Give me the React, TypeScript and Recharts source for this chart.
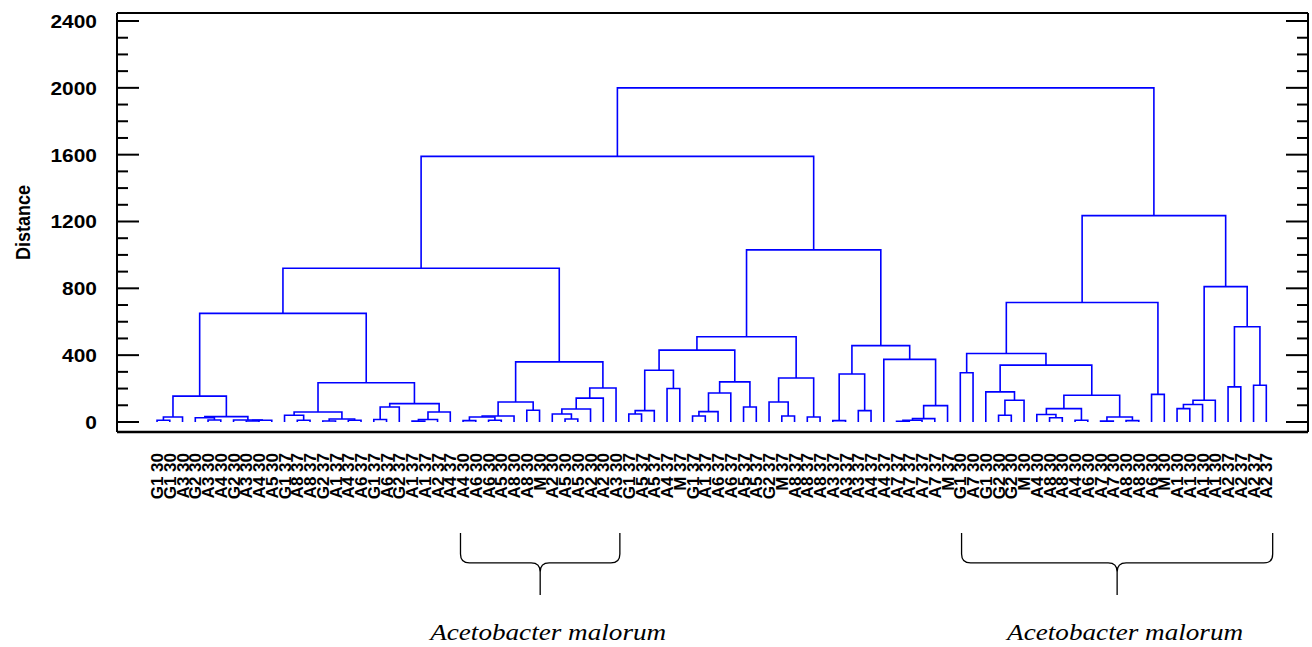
import React from "react";
import { ComposedChart, Line, XAxis, YAxis, ReferenceArea, Label } from "recharts";

const SANS = "'Liberation Sans', Arial, sans-serif";
const SERIF = "'Liberation Serif', 'Times New Roman', serif";
const TREE_COLOR = "#0000ff";

// leaf order along the x axis (left to right)
const leafLabels = [
	"G1 30", "G1 30", "A3 30", "G2 30", "A3 30", "A4 30", "G2 30", "A3 30", "A4 30", "A5 30",
	"G1 37", "A8 37", "A8 37", "G2 37", "A1 37", "A4 37", "A6 37", "G1 37", "A6 37", "G2 37",
	"A1 37", "A1 37", "A2 37", "A4 37",
	"A4 30", "A6 30", "A6 30", "A5 30", "A8 30", "A8 30", "M 30", "A2 30", "A5 30", "A5 30",
	"A2 30", "A2 30", "A3 30",
	"G1 37", "A5 37", "A5 37", "A4 37", "M 37", "G1 37", "A1 37", "A6 37", "A6 37", "A5 37",
	"A5 37", "G2 37", "M 37", "A8 37", "A8 37", "A8 37", "A3 37", "A3 37", "A3 37", "A4 37",
	"A4 37", "A7 37", "A7 37", "A7 37", "A7 37", "M 37",
	"G1 30", "A7 30", "G1 30", "G2 30", "G2 30", "M 30", "A4 30", "A8 30", "A8 30", "A4 30",
	"A6 30", "A7 30", "A7 30", "A8 30", "A8 30", "A6 30", "M 30",
	"A1 30", "A1 30", "A1 30", "A1 30",
	"A2 37", "A2 37", "A2 37", "A2 37",
];

// merges: [left, right, distance]
// positive = leaf position (1-based), negative = earlier merge (1-based)
const merges: [number, number, number][] = [
	[1, 2, 10], [-1, 3, 30], [5, 6, 12], [4, -3, 25], [8, 9, 6],
	[-5, 10, 10], [7, -6, 12], [-4, -7, 32], [-2, -8, 155], [12, 13, 10],
	[11, -10, 40], [14, 15, 6], [16, 17, 10], [-12, -13, 18], [-11, -14, 60],
	[18, 19, 15], [-16, 20, 90], [21, 22, 5], [-18, 23, 15], [-19, 24, 60],
	[-17, -20, 110], [-15, -21, 235], [-9, -22, 650], [25, 26, 8], [27, 28, 10],
	[-24, -25, 30], [-26, 29, 36], [30, 31, 70], [-27, -28, 120], [33, 34, 18],
	[32, -30, 48], [-31, 35, 78], [-32, 36, 143], [-33, 37, 203], [-29, -34, 360],
	[-23, -35, 920], [38, 39, 48], [-37, 40, 68], [41, 42, 200], [-38, -39, 310],
	[43, 44, 36], [-41, 45, 62], [-42, 46, 173], [47, 48, 90], [-43, -44, 240],
	[-40, -45, 430], [50, 51, 36], [49, -47, 120], [52, 53, 30], [-48, -49, 263],
	[-46, -50, 510], [54, 55, 8], [56, 57, 68], [-52, -53, 287], [59, 60, 4],
	[-55, 61, 10], [-56, 62, 20], [-57, 63, 98], [58, -58, 375], [-54, -59, 457],
	[-51, -60, 1030], [-36, -61, 1590], [64, 65, 295], [67, 68, 40], [-64, 69, 130],
	[66, -65, 180], [71, 72, 25], [70, -67, 45], [73, 74, 10], [-68, -69, 80],
	[75, 76, 5], [77, 78, 8], [-71, -72, 30], [-70, -73, 160], [-66, -74, 340],
	[-63, -75, 410], [79, 80, 165], [-76, -77, 715], [81, 82, 80], [-79, 83, 105],
	[-80, 84, 130], [85, 86, 210], [87, 88, 220], [-82, -83, 570], [-81, -84, 810],
	[-78, -85, 1235], [-62, -86, 2000],
];

const yTicks = [
	0, 100, 200, 300, 400, 500, 600, 700, 800, 900, 1000, 1100, 1200,
	1300, 1400, 1500, 1600, 1700, 1800, 1900, 2000, 2100, 2200, 2300, 2400,
];
const yLabelTicks = [0, 400, 800, 1200, 1600, 2000, 2400];

const braceSpans: [number, number][] = [
	[24.8, 37.3],
	[64.1, 88.5],
];
const braceCaption = "Acetobacter malorum";

const X_DOMAIN: [number, number] = [-2.14, 91.27];
const Y_DOMAIN: [number, number] = [-60, 2448];

const leafPositions = leafLabels.map((_, i) => i + 1);

// turn merges into U-shaped links (scipy-style: node x = midpoint of children)
function buildLinks() {
	const nodes: { x: number; h: number }[] = [];
	const get = (ref: number) => (ref > 0 ? { x: ref, h: 0 } : nodes[-ref - 1]);
	return merges.map(([a, b, h]) => {
		const l = get(a);
		const r = get(b);
		nodes.push({ x: (l.x + r.x) / 2, h });
		return [
			{ x: l.x, y: l.h },
			{ x: l.x, y: h },
			{ x: r.x, y: h },
			{ x: r.x, y: r.h },
		];
	});
}

const links = buildLinks();

function LeafTick(props: any) {
	const { x, y, payload } = props;
	const label = leafLabels[payload.value - 1];
	return (
		<text
			transform={`translate(${x},${y + 21}) rotate(-90)`}
			textAnchor="end"
			dy="0.36em"
			fontFamily={SANS}
			fontWeight="bold"
			fontSize={17}
			fill="#000"
		>
			{label}
		</text>
	);
}

function LeftTick(props: any) {
	const { x, y, payload } = props;
	const major = yLabelTicks.includes(payload.value);
	return (
		<g>
			<line x1={x} x2={x + (major ? 22 : 11)} y1={y} y2={y} stroke="#000" strokeWidth={2} />
			{major && (
				<text
					transform={`translate(${x - 20},${y}) scale(1.1,1)`}
					textAnchor="end"
					dy="0.36em"
					fontFamily={SANS}
					fontWeight="bold"
					fontSize={19}
					fill="#000"
				>
					{payload.value}
				</text>
			)}
		</g>
	);
}

function RightTick(props: any) {
	const { x, y, payload } = props;
	const major = yLabelTicks.includes(payload.value);
	return <line x1={x} x2={x - (major ? 22 : 11)} y1={y} y2={y} stroke="#000" strokeWidth={2} />;
}

function DistanceLabel(props: any) {
	const { viewBox } = props;
	const cy = viewBox.y + viewBox.height / 2;
	return (
		<text
			transform={`translate(${viewBox.x - 27},${cy}) scale(1.15,1) rotate(-90)`}
			textAnchor="middle"
			fontFamily={SANS}
			fontWeight="bold"
			fontSize={18}
			fill="#000"
		>
			Distance
		</text>
	);
}

function Brace(props: any) {
	const { x, y, width, height } = props;
	const cx = x + width / 2;
	const mid = y + 30;
	const r = 9;
	const d = [
		`M${x},${y}`,
		`L${x},${mid - r}`,
		`Q${x},${mid} ${x + r},${mid}`,
		`L${cx - r},${mid}`,
		`Q${cx},${mid} ${cx},${mid + r}`,
		`L${cx},${y + height}`,
		`M${cx},${mid + r}`,
		`Q${cx},${mid} ${cx + r},${mid}`,
		`L${x + width - r},${mid}`,
		`Q${x + width},${mid} ${x + width},${mid - r}`,
		`L${x + width},${y}`,
	].join(" ");
	return (
		<g>
			<path d={d} fill="none" stroke="#000" strokeWidth={1.3} />
			<text
				x={cx + 8}
				y={y + height + 45}
				textAnchor="middle"
				fontFamily={SERIF}
				fontStyle="italic"
				fontSize={24}
				textLength={236}
				lengthAdjust="spacingAndGlyphs"
				fill="#000"
			>
				{braceCaption}
			</text>
		</g>
	);
}

export default function App() {
	return (
		<div style={{ position: "absolute", left: 0, top: 0, background: "#fff" }}>
			<ComposedChart
				width={1312}
				height={647}
				margin={{ top: 12, right: 3, bottom: 135, left: 57 }}
			>
				<XAxis
					xAxisId="b"
					type="number"
					dataKey="x"
					domain={X_DOMAIN}
					allowDataOverflow
					ticks={leafPositions}
					interval={0}
					tickLine={false}
					tickSize={0}
					tickMargin={0}
					tick={<LeafTick />}
					axisLine={{ stroke: "#000", strokeWidth: 2.5 }}
					height={80}
				/>
				<XAxis
					xAxisId="t"
					orientation="top"
					type="number"
					dataKey="x"
					domain={X_DOMAIN}
					allowDataOverflow
					height={1}
					tick={false}
					tickLine={false}
					axisLine={{ stroke: "#000", strokeWidth: 2 }}
				/>
				<YAxis
					yAxisId="l"
					type="number"
					domain={Y_DOMAIN}
					allowDataOverflow
					ticks={yTicks}
					interval={0}
					width={60}
					tickLine={false}
					tickSize={0}
					tickMargin={0}
					tick={<LeftTick />}
					axisLine={{ stroke: "#000", strokeWidth: 2 }}
				>
					<Label content={DistanceLabel} />
				</YAxis>
				<YAxis
					yAxisId="r"
					orientation="right"
					type="number"
					domain={Y_DOMAIN}
					allowDataOverflow
					ticks={yTicks}
					interval={0}
					width={1}
					tickLine={false}
					tickSize={0}
					tickMargin={0}
					tick={<RightTick />}
					axisLine={{ stroke: "#000", strokeWidth: 2 }}
				/>

				{links.map((pts, i) => (
					<Line
						key={i}
						xAxisId="b"
						yAxisId="l"
						data={pts}
						dataKey="y"
						type="linear"
						stroke={TREE_COLOR}
						strokeWidth={1.6}
						dot={false}
						activeDot={false}
						isAnimationActive={false}
					/>
				))}

				{/* keeps the top and right frame axes in use */}
				<Line
					xAxisId="t"
					yAxisId="r"
					data={[]}
					dataKey="y"
					stroke="none"
					dot={false}
					activeDot={false}
					isAnimationActive={false}
				/>

				{braceSpans.map(([from, to], i) => (
					<ReferenceArea
						key={i}
						xAxisId="b"
						yAxisId="l"
						x1={from}
						x2={to}
						y1={-664}
						y2={-1035}
						ifOverflow="visible"
						shape={Brace}
					/>
				))}
			</ComposedChart>
		</div>
	);
}
